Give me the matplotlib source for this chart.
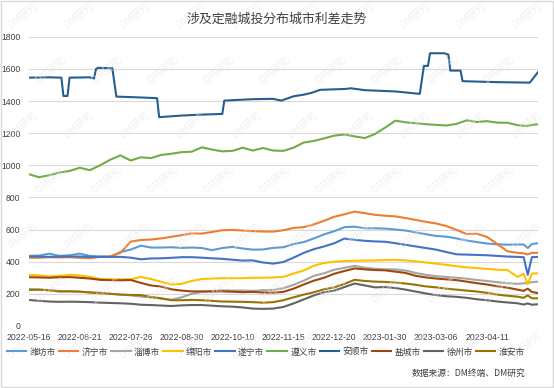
import matplotlib.pyplot as plt
from matplotlib.patches import Rectangle

plt.rcParams['font.family'] = ['Liberation Sans', 'Noto Sans CJK SC', 'DejaVu Sans']

# trading-day index of each sample (day 0 = 2022-05-16)
days = list(range(0, 241, 5)) + [243, 245, 247, 250]

tick_pos = [0, 25, 50, 75, 100, 125, 150, 175, 200, 225]
tick_labels = ['2022-05-16', '2022-06-21', '2022-07-26', '2022-08-30', '2022-10-10',
               '2022-11-15', '2022-12-20', '2023-01-30', '2023-03-06', '2023-04-11']

weifang = [436, 438, 450, 436, 440, 450, 436, 432, 430, 460, 475, 500, 488, 488, 490, 486, 488,
           485, 472, 485, 492, 482, 475, 476, 486, 490, 510, 522, 545, 570, 590, 615, 618, 608,
           608, 606, 600, 594, 582, 571, 560, 556, 545, 532, 522, 513, 508, 506, 507, 507, 485,
           510, 515]
jining = [425, 424, 428, 426, 428, 424, 422, 430, 433, 455, 525, 535, 538, 545, 555, 565, 576,
          575, 585, 596, 598, 594, 590, 588, 587, 596, 610, 615, 632, 655, 680, 695, 712, 702,
          692, 686, 682, 672, 660, 648, 638, 622, 598, 572, 574, 554, 510, 465, 455, 452, 445,
          455, 455]
zibo = [230, 226, 222, 218, 214, 212, 210, 207, 200, 195, 190, 183, 178, 170, 163, 178, 200,
        212, 218, 222, 220, 220, 218, 222, 224, 235, 256, 282, 312, 328, 350, 362, 374, 362,
        356, 352, 352, 345, 330, 318, 310, 305, 300, 294, 286, 280, 272, 266, 262, 265, 268,
        272, 276]
mianyang = [318, 315, 308, 312, 318, 314, 306, 292, 290, 290, 290, 305, 292, 275, 258, 262, 280,
            292, 295, 297, 297, 297, 300, 300, 302, 306, 326, 345, 375, 392, 400, 404, 406, 407,
            408, 410, 411, 408, 402, 395, 388, 380, 372, 365, 360, 355, 350, 348, 305, 325, 260,
            326, 328]
suining = [432, 432, 430, 432, 432, 432, 430, 430, 430, 430, 425, 415, 420, 421, 424, 428, 428,
           425, 421, 418, 412, 407, 408, 395, 388, 398, 425, 455, 478, 495, 515, 544, 536, 530,
           526, 524, 515, 505, 495, 485, 475, 460, 446, 444, 442, 440, 436, 432, 430, 428, 318,
           428, 430]
zunyi = [945, 926, 938, 955, 965, 985, 970, 1000, 1035, 1062, 1030, 1050, 1045, 1065, 1072, 1082,
         1085, 1112, 1098, 1087, 1090, 1110, 1092, 1108, 1092, 1090, 1110, 1142, 1152, 1168, 1185,
         1192, 1180, 1170, 1195, 1235, 1278, 1268, 1262, 1256, 1252, 1248, 1258, 1280, 1270, 1275,
         1266, 1265, 1250, 1246, 1246, 1252, 1256]
yancheng = [303, 302, 300, 303, 304, 300, 295, 287, 285, 284, 286, 268, 252, 245, 228, 220, 215,
            215, 214, 215, 213, 210, 212, 208, 207, 212, 232, 258, 282, 300, 325, 342, 358, 352,
            348, 346, 338, 330, 312, 302, 295, 290, 285, 276, 266, 258, 247, 238, 226, 218, 232,
            212, 204]
xuzhou = [162, 156, 152, 150, 151, 150, 148, 145, 143, 141, 138, 132, 130, 127, 124, 128, 130,
          130, 126, 122, 120, 115, 108, 106, 108, 118, 140, 165, 190, 210, 220, 242, 264, 252,
          240, 242, 236, 226, 214, 202, 192, 185, 181, 175, 166, 160, 152, 146, 141, 133, 140,
          132, 135]
huaian = [224, 226, 222, 214, 216, 214, 208, 203, 200, 195, 193, 192, 180, 172, 160, 160, 162,
          160, 156, 152, 151, 150, 148, 145, 148, 160, 178, 195, 210, 228, 240, 262, 287, 280,
          276, 274, 270, 264, 256, 246, 240, 232, 226, 220, 214, 206, 195, 188, 182, 175, 190,
          172, 172]

# 安顺 moves in steps, so it keeps its own sample days
anshun_days = [0, 10, 16, 17, 19, 20, 30, 32, 33, 34, 41, 43, 50, 60, 63, 64, 75, 85, 95, 96,
               110, 120, 124, 130, 135, 139, 143, 156, 158, 165, 180, 192, 194, 196, 197, 204,
               206, 207, 212, 213, 230, 246, 250]
anshun = [1546, 1548, 1546, 1432, 1432, 1546, 1548, 1540, 1600, 1607, 1605, 1428, 1425, 1420,
          1418, 1300, 1310, 1316, 1320, 1403, 1412, 1414, 1403, 1430, 1440, 1452, 1470, 1476,
          1480, 1468, 1460, 1445, 1619, 1619, 1698, 1698, 1690, 1590, 1590, 1524, 1518, 1515,
          1580]

series = [
    ('潍坊市', days, weifang, '#5B9BD5'),
    ('济宁市', days, jining, '#ED7D31'),
    ('淄博市', days, zibo, '#A5A5A5'),
    ('绵阳市', days, mianyang, '#FFC000'),
    ('遂宁市', days, suining, '#4472C4'),
    ('遵义市', days, zunyi, '#70AD47'),
    ('安顺市', anshun_days, anshun, '#255E91'),
    ('盐城市', days, yancheng, '#9E480E'),
    ('徐州市', days, xuzhou, '#636363'),
    ('淮安市', days, huaian, '#997300'),
]

fig = plt.figure(figsize=(5.54, 3.88), dpi=100)
ax = fig.add_axes([0.052, 0.160, 0.919, 0.745])

for name, x, y, c in series:
    ax.plot(x, y, color=c, lw=1.5, label=name, solid_joinstyle='round')

ax.set_xlim(0, 250)
ax.set_ylim(0, 1800)
ax.set_yticks(range(0, 1801, 200))
ax.set_xticks(tick_pos)
ax.set_xticklabels(tick_labels)
ax.tick_params(axis='both', length=0, labelsize=6.2, colors='#404040')
ax.tick_params(axis='x', pad=5)
ax.tick_params(axis='y', pad=6)
ax.grid(axis='y', color='#d9d9d9', lw=0.8)
ax.set_axisbelow(True)
for s in ax.spines.values():
    s.set_visible(False)

cjk = ['Noto Sans CJK SC', 'DejaVu Sans']
fig.text(0.5, 0.951, '涉及定融城投分布城市利差走势', ha='center', va='center',
         fontsize=9.3, color='#404040', family=cjk)

leg = fig.legend(loc='center', bbox_to_anchor=(0.48, 1 - 352 / 388), ncol=10, frameon=False,
                 prop={'family': cjk, 'size': 6.3}, handlelength=2.2, handletextpad=0.4,
                 columnspacing=0.35, borderaxespad=0)
for t in leg.get_texts():
    t.set_color('#404040')

fig.text(0.948, 1 - 373 / 388, '数据来源：DM终端、DM研究', ha='right', va='center',
         fontsize=6.3, color='#404040', family=cjk)

# faint watermark tiles
for r in range(7):
    for k in range(10):
        px = 22 + 56 * k + (r % 2) * 28
        py = 15 + 55 * r
        if px > 530:
            continue
        fig.text(px / 554, 1 - py / 388, 'DM研究', rotation=40, ha='center', va='center',
                 fontsize=7, color='#e6e6e6', alpha=0.6, family=cjk, zorder=0)

fig.add_artist(Rectangle((0.002, 0.003), 0.996, 0.994, transform=fig.transFigure,
                         fill=False, ec='#d9d9d9', lw=1))

fig.savefig('out.png', dpi=100)
